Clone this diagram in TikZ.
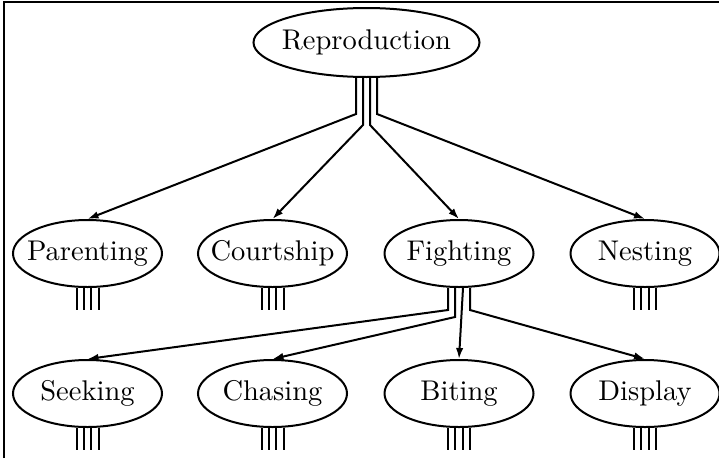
\documentclass[tikz,border=0pt]{standalone}
\usepackage{fontspec}
\setmainfont{lmroman10-regular}[Extension=.otf]
\usetikzlibrary{shapes.geometric,arrows.meta}
\newcommand\zb[1]{\makebox[0pt]{#1}}
\begin{document}
\begin{tikzpicture}[x=1pt,y=-1pt,
  font=\fontsize{28.5}{34}\selectfont,
  line width=2pt,
  ell/.style={ellipse,draw,line width=2pt,minimum width=149pt,minimum height=67pt,inner sep=0pt,text height=20pt,text depth=6pt},
  big/.style={ell,minimum width=226pt,minimum height=69pt},
  arr/.style={-{Latex[length=11pt,width=7.5pt]},line width=2pt},
  stub/.style={line width=2pt}]
\useasboundingbox (0,0) rectangle (719,458);
\draw[line width=2pt] (4,458) -- (4,2) -- (719,2);

\node[big] (R) at (366.5,42.5) {\zb{Reproduction}};
\node[ell] (P) at (87.5,253.5) {\zb{Parenting}};
\node[ell] (C) at (272.5,253.5) {\zb{Courtship}};
\node[ell] (F) at (459,253.5) {\zb{Fighting}};
\node[ell] (N) at (645,253.5) {\zb{Nesting}};
\node[ell] (S) at (87.5,393.5) {\zb{Seeking}};
\node[ell] (H) at (272.5,393.5) {\zb{Chasing}};
\node[ell] (B) at (459,393.5) {\zb{Biting}};
\node[ell] (D) at (645,393.5) {\zb{Display}};

% Reproduction connectors
\draw[arr] ([xshift=-10.5pt]R.south) -- ++(0,36) -- (P.north);
\draw[arr] ([xshift=-3.5pt]R.south) -- ++(0,47) -- (C.north);
\draw[arr] ([xshift=3.5pt]R.south) -- ++(0,47) -- (F.north);
\draw[arr] ([xshift=10.5pt]R.south) -- ++(0,36) -- (N.north);

% Fighting connectors
\draw[arr] ([xshift=-11pt]F.south) -- ++(0,22) -- (S.north);
\draw[arr] ([xshift=-4pt]F.south) -- ++(0,29) -- (H.north);
\draw[arr] ([xshift=4pt]F.south) -- (B.north);
\draw[arr] ([xshift=11pt]F.south) -- ++(0,22) -- (D.north);

% stubs
\foreach \n in {P,C,N,S,H,B,D}{
  \foreach \dx in {-11,-3.7,3.7,11}{
    \draw[stub] ([xshift=\dx pt]\n.south) -- ++(0,22);
  }
}
\end{tikzpicture}
\end{document}
